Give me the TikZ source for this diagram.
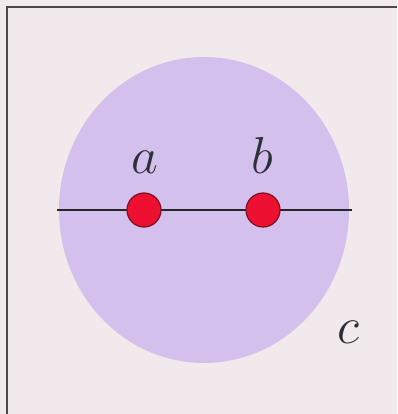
\RequirePackage{fix-cm}
\documentclass[tikz,border=0pt]{standalone}
\begin{document}
\begin{tikzpicture}[x=1pt,y=-1pt,
  dotnode/.style={circle,minimum size=34pt,inner sep=0pt,fill=dotred,draw=dotedge,line width=1.2pt},
  lbl/.style={anchor=base,text=labelgray,font=\fontsize{52}{52}\selectfont},
  frameline/.style={draw=framegray,line width=2pt}]
\definecolor{bgpink}{HTML}{F2E9EC}
\definecolor{lavender}{HTML}{D3C0EC}
\definecolor{dotred}{HTML}{EE1030}
\definecolor{dotedge}{HTML}{7A1020}
\definecolor{labelgray}{HTML}{2E3038}
\definecolor{framegray}{HTML}{4A4A4A}
\useasboundingbox (0,0) rectangle (397,414);
\fill[bgpink] (0,0) rectangle (397,414);
\draw[frameline] (7,414) -- (7,7) -- (397,7);
\fill[lavender] (204,210) ellipse [x radius=145, y radius=153];
\coordinate (L) at (57,210);
\coordinate (R) at (352,210);
\draw[line width=1.4pt,black!85] (L) -- (R);
\node[dotnode] (a) at (144,210) {};
\node[dotnode] (b) at (263,210) {};
\node[lbl] (la) at (145,173) {$a$};
\node[lbl] (lb) at (262,173) {$b$};
\node[lbl] (lc) at (348,343) {$c$};
\end{tikzpicture}
\end{document}
